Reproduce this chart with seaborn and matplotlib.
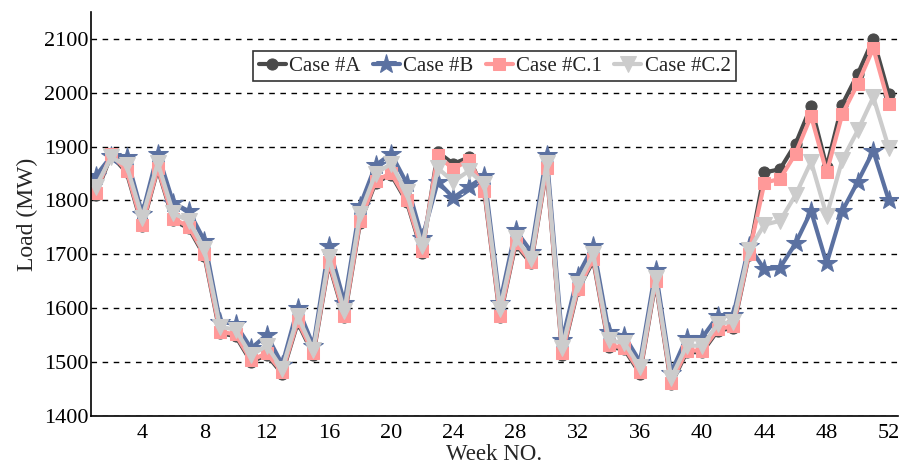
import numpy as np
import pandas as pd
import seaborn as sns
import matplotlib
matplotlib.use('Agg')
import matplotlib.pyplot as plt

weeks = list(range(1, 53))

case_a = [1810, 1884, 1852, 1752, 1858, 1763, 1748, 1697, 1553, 1548,
          1500, 1513, 1478, 1573, 1513, 1683, 1583, 1758, 1833, 1848,
          1798, 1703, 1890, 1868, 1880, 1815, 1583, 1718, 1683, 1858,
          1513, 1633, 1688, 1528, 1523, 1478, 1648, 1458, 1518, 1518,
          1558, 1563, 1698, 1852, 1858, 1905, 1975, 1862, 1978, 2035,
          2100, 1997]
case_b = [1845, 1882, 1880, 1775, 1887, 1795, 1780, 1725, 1575, 1570,
          1525, 1550, 1495, 1600, 1530, 1715, 1610, 1790, 1865, 1887,
          1832, 1730, 1835, 1805, 1825, 1845, 1610, 1745, 1705, 1885,
          1540, 1660, 1715, 1555, 1548, 1500, 1670, 1480, 1545, 1545,
          1585, 1587, 1715, 1672, 1675, 1720, 1780, 1683, 1780, 1835,
          1892, 1800]
case_c1 = [1813, 1887, 1855, 1755, 1860, 1766, 1751, 1700, 1556, 1551,
           1503, 1516, 1481, 1576, 1516, 1686, 1586, 1761, 1836, 1851,
           1801, 1706, 1884, 1858, 1876, 1818, 1586, 1721, 1686, 1860,
           1516, 1636, 1691, 1531, 1526, 1481, 1651, 1461, 1521, 1521,
           1561, 1566, 1700, 1833, 1840, 1887, 1957, 1852, 1960, 2017,
           2083, 1979]
case_c2 = [1825, 1880, 1865, 1768, 1870, 1776, 1762, 1710, 1565, 1560,
           1512, 1530, 1487, 1585, 1522, 1695, 1595, 1775, 1850, 1868,
           1815, 1715, 1860, 1835, 1855, 1830, 1598, 1730, 1692, 1870,
           1525, 1645, 1700, 1540, 1535, 1490, 1655, 1470, 1530, 1530,
           1570, 1575, 1708, 1755, 1762, 1810, 1872, 1772, 1875, 1930,
           1992, 1897]

labels = ['Case #A', 'Case #B', 'Case #C.1', 'Case #C.2']
series = [case_a, case_b, case_c1, case_c2]
colors = ['#4a4a4a', '#5b71a1', '#ff9999', '#cccccc']
markers = ['o', '*', 's', 'v']
msizes = [8, 15, 8, 11]

sns.set_style('white')
plt.rcParams['font.family'] = ['Liberation Serif', 'DejaVu Serif']

fig = plt.figure(figsize=(9, 4.66), dpi=100)
ax = fig.add_axes([0.101, 0.108, 0.897, 0.866])

for lab, vals, col, mk, ms in zip(labels, series, colors, markers, msizes):
    sns.lineplot(x=weeks, y=vals, ax=ax, color=col, marker=mk, markersize=ms,
                 markeredgecolor=col, linewidth=3, label=lab)

ax.set_xlim(0.7, 52.6)
ax.set_ylim(1400, 2150)
ax.set_xticks(range(4, 53, 4))
ax.set_yticks(range(1400, 2101, 100))
ax.yaxis.grid(True, linestyle=(0, (4, 4)), color='black', linewidth=1)
ax.set_axisbelow(True)
for s in ['top', 'right']:
    ax.spines[s].set_visible(False)
for s in ['left', 'bottom']:
    ax.spines[s].set_color('black')
    ax.spines[s].set_linewidth(1.2)
ax.tick_params(axis='both', direction='in', length=5, width=1, labelsize=16,
               colors='black', pad=2)
ax.tick_params(axis='x', pad=6)
ax.set_xlabel('Week NO.', fontsize=16.5, labelpad=1)
ax.set_ylabel('Load (MW)', fontsize=17, labelpad=4)

leg = ax.legend(loc='upper center', bbox_to_anchor=(0.5, 0.903), ncol=4,
                fontsize=15, frameon=True, fancybox=False, edgecolor='black',
                handlelength=1.3, handletextpad=0.15, columnspacing=0.6,
                borderpad=0.25, borderaxespad=0)
leg.get_frame().set_linewidth(1.2)

fig.savefig('out.png', dpi=100)
